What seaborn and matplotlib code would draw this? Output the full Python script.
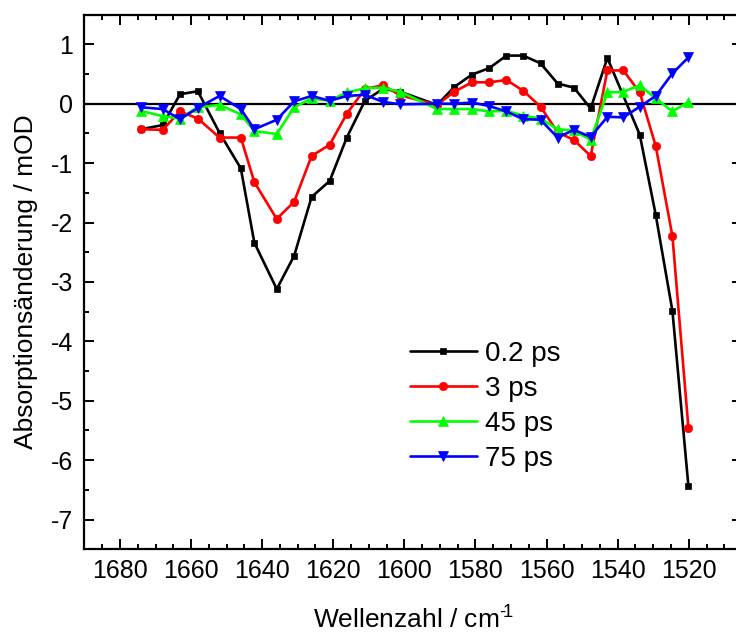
import numpy as np
import pandas as pd
import matplotlib
matplotlib.use("Agg")
import matplotlib.pyplot as plt
from matplotlib.ticker import MultipleLocator
import seaborn as sns

# ---------------- data ----------------
wavenumber = [1674.1, 1668.0, 1663.1, 1658.1, 1652.0, 1646.0, 1642.2, 1635.9, 1631.0, 1626.1,
              1621.0, 1616.2, 1611.1, 1606.0, 1601.1, 1590.8, 1586.0, 1581.0, 1576.1, 1571.3,
              1566.6, 1561.7, 1556.9, 1552.3, 1547.6, 1542.9, 1538.4, 1533.8, 1529.3, 1524.6,
              1520.1]
ps_0_2 = [-0.43, -0.36, 0.16, 0.21, -0.49, -1.09, -2.34, -3.12, -2.56, -1.57,
          -1.30, -0.57, 0.05, 0.25, 0.20, -0.02, 0.28, 0.49, 0.60, 0.81,
          0.81, 0.68, 0.34, 0.27, -0.08, 0.77, np.nan, -0.52, -1.87, -3.49,
          -6.44]
ps_3 = [-0.43, -0.44, -0.13, -0.25, -0.57, -0.57, -1.32, -1.94, -1.65, -0.88,
        -0.69, -0.17, 0.25, 0.31, 0.14, -0.02, 0.20, 0.36, 0.36, 0.40,
        0.22, -0.05, -0.48, -0.61, -0.88, 0.56, 0.56, 0.19, -0.71, -2.23,
        -5.46]
ps_45 = [-0.12, -0.21, -0.25, -0.06, -0.02, -0.18, -0.46, -0.51, -0.06, 0.09,
         0.05, 0.19, 0.26, 0.27, 0.20, -0.09, -0.09, -0.09, -0.13, -0.12,
         -0.20, -0.25, -0.43, -0.45, -0.61, 0.19, 0.20, 0.31, 0.09, -0.13,
         0.03]
ps_75 = [-0.06, -0.09, -0.26, -0.07, 0.13, -0.09, -0.43, -0.27, 0.04, 0.13,
         0.05, 0.13, 0.15, 0.03, -0.01, 0.00, 0.00, 0.02, -0.04, -0.13,
         -0.26, -0.27, -0.57, -0.44, -0.56, -0.22, -0.23, -0.05, 0.13, 0.51,
         0.78]
series_labels = ["0.2 ps", "3 ps", "45 ps", "75 ps"]
series_values = [ps_0_2, ps_3, ps_45, ps_75]
colors = ["#000000", "#FF0000", "#00FF00", "#0000FF"]
markers = ["s", "o", "^", "v"]
msizes = [5.0, 6.0, 6.5, 6.5]
x_ticks = [1680, 1660, 1640, 1620, 1600, 1580, 1560, 1540, 1520]
y_ticks = [1, 0, -1, -2, -3, -4, -5, -6, -7]

# ---------------- style ----------------
sns.set_style("ticks")
plt.rcParams["font.family"] = ["Liberation Sans", "DejaVu Sans"]
plt.rcParams["mathtext.fontset"] = "custom"
plt.rcParams["mathtext.rm"] = "Liberation Sans"
plt.rcParams["axes.unicode_minus"] = False
plt.rcParams["text.color"] = "black"
plt.rcParams["axes.labelcolor"] = "black"
plt.rcParams["xtick.color"] = "black"
plt.rcParams["ytick.color"] = "black"

fig = plt.figure(figsize=(7.36, 6.35), dpi=100)
ax = fig.add_axes([0.1147, 0.1351, 0.8936, 0.8419])

frames = []
for lab, vals in zip(series_labels, series_values):
    frames.append(pd.DataFrame({"Wellenzahl": wavenumber, "Signal": vals, "Serie": lab}))
df = pd.concat(frames, ignore_index=True).dropna()

ax.axhline(0, color="black", lw=1.6, zorder=1)

for lab, c, m, ms in zip(series_labels, colors, markers, msizes):
    sub = df[df["Serie"] == lab]
    sns.lineplot(data=sub, x="Wellenzahl", y="Signal", ax=ax, color=c, marker=m,
                 markersize=ms, mec=c, mew=0.5, lw=1.9, estimator=None, sort=True,
                 label=lab, zorder=3)

ax.set_xlim(1690, 1505)
ax.set_ylim(-7.5, 1.5)
ax.set_xticks(x_ticks)
ax.set_yticks(y_ticks)
ax.xaxis.set_minor_locator(MultipleLocator(5))
ax.yaxis.set_minor_locator(MultipleLocator(0.5))
ax.tick_params(which="both", direction="in", top=True, right=True, width=1.4, color="black",
               labelcolor="black")
ax.tick_params(which="major", length=7, labelsize=18, pad=7)
ax.tick_params(which="minor", length=3.5)
ax.tick_params(axis="y", which="major", pad=8)
for sp in ax.spines.values():
    sp.set_linewidth(1.6)
    sp.set_color("black")

ax.set_xlabel("Wellenzahl / cm$^{\\mathregular{\u2010}\\!\\mathregular{1}}$", fontsize=19,
              labelpad=16, color="black")
ax.set_ylabel("Absorptionsänderung / mOD", fontsize=19, labelpad=9, color="black")

leg = ax.legend(loc="upper left", bbox_to_anchor=(0.495, 0.39), frameon=False,
                fontsize=20, handlelength=2.4, handletextpad=0.3, labelspacing=0.33,
                borderpad=0, borderaxespad=0)
for t in leg.get_texts():
    t.set_color("black")

fig.savefig("out.png", dpi=100)
